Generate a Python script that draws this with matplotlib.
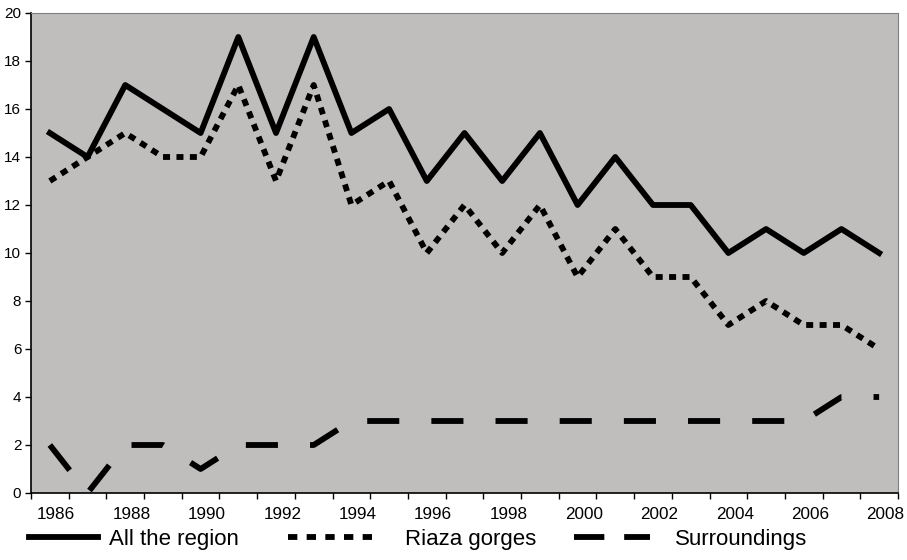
import matplotlib
matplotlib.use("Agg")
import matplotlib.pyplot as plt
from matplotlib.lines import Line2D

# yearly counts, 1986-2008
all_region = [15, 14, 17, 16, 15, 19, 15, 19, 15, 16, 13, 15, 13, 15, 12, 14, 12, 12, 10, 11, 10, 11, 10]
riaza = [13, 14, 15, 14, 14, 17, 13, 17, 12, 13, 10, 12, 10, 12, 9, 11, 9, 9, 7, 8, 7, 7, 6]
surroundings = [2, 0, 2, 2, 1, 2, 2, 2, 3, 3, 3, 3, 3, 3, 3, 3, 3, 3, 3, 3, 3, 4, 4]
year_labels = ['1986', '1988', '1990', '1992', '1994', '1996',
               '1998', '2000', '2002', '2004', '2006', '2008']
series_names = ['All the region', 'Riaza gorges', 'Surroundings']

plt.rcParams['font.family'] = ['Liberation Sans', 'DejaVu Sans']

fig = plt.figure(figsize=(9.07, 5.6), dpi=100)
ax = fig.add_axes([31 / 907, 1 - 493 / 560, (898 - 31) / 907, (493 - 13) / 560])
ax.set_facecolor('#c0bdbd')

n = len(all_region)
x = list(range(n))
lw = 4.2

ax.plot(x, all_region, color='black', lw=lw, solid_joinstyle='round')
ax.plot(x, riaza, color='black', lw=lw, dashes=(1.2, 1.1),
        dash_capstyle='butt', dash_joinstyle='round')
ax.plot(x, surroundings, color='black', lw=lw, dashes=(5.5, 5.5),
        dash_capstyle='butt')

ax.set_xlim(-0.5, n - 0.5)
ax.set_ylim(0, 20)
ax.set_yticks(range(0, 21, 2))

# tick marks on category boundaries, year labels every second category
ax.set_xticks([k - 0.5 for k in range(n + 1)], minor=True)
ax.set_xticks([2 * k + 0.17 for k in range(len(year_labels))])
ax.set_xticklabels(year_labels)

ax.tick_params(axis='x', which='minor', direction='out', length=4, width=1)
ax.tick_params(axis='x', which='major', length=0, pad=10, labelsize=12.3)
ax.tick_params(axis='y', direction='out', length=4, width=1, pad=3, labelsize=11)

for side in ['top', 'right']:
    ax.spines[side].set_color('#808080')
for side in ['left', 'bottom']:
    ax.spines[side].set_color('black')
    ax.spines[side].set_linewidth(1.2)

# legend entries placed one by one, like the original layout
handles = [
    Line2D([], [], color='black', lw=lw),
    Line2D([], [], color='black', lw=lw, dashes=(1.6, 1.6), dash_capstyle='butt'),
    Line2D([], [], color='black', lw=lw, dashes=(5.2, 3.4), dash_capstyle='butt'),
]
starts = [29, 288, 574]
lengths = [3.1, 3.9, 3.42]
pads = [0.5, 1.35, 1.12]
for h, name, x0, hl, tp in zip(handles, series_names, starts, lengths, pads):
    fig.legend([h], [name], loc='center left',
               bbox_to_anchor=(x0 / 907, 1 - 539 / 560),
               frameon=False, fontsize=16, handlelength=hl, handletextpad=tp,
               borderpad=0, borderaxespad=0)

fig.savefig('out.png', dpi=100)
